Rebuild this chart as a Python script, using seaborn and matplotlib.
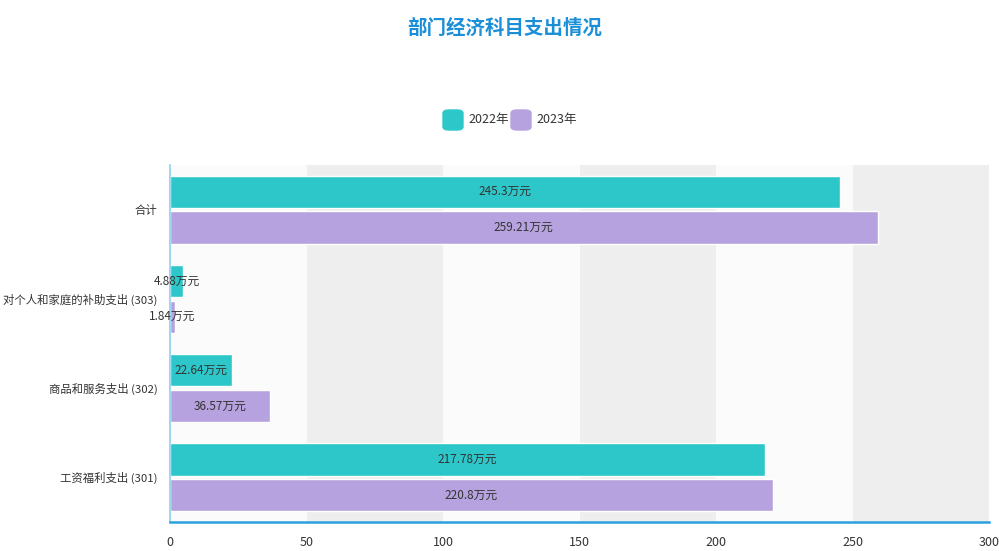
import pandas as pd
import seaborn as sns
import matplotlib.pyplot as plt
from matplotlib.patches import FancyBboxPatch

categories = ["合计", "对个人和家庭的补助支出 (303)", "商品和服务支出 (302)", "工资福利支出 (301)"]
years = ["2022年", "2023年"]
values_2022 = [245.3, 4.88, 22.64, 217.78]
values_2023 = [259.21, 1.84, 36.57, 220.8]
x_ticks = [0, 50, 100, 150, 200, 250, 300]
colors = ["#2ec7c9", "#b6a2de"]

df = pd.DataFrame({
    "category": categories * 2,
    "year": [years[0]] * 4 + [years[1]] * 4,
    "value": values_2022 + values_2023,
})

sns.set_style("white")
plt.rcParams["font.family"] = ["Noto Sans CJK SC", "DejaVu Sans"]

fig = plt.figure(figsize=(9.99, 5.51), dpi=100)
ax = fig.add_axes([170 / 999, 1 - 522 / 551, 819 / 999, 357 / 551])

# alternating split areas
for i, x0 in enumerate(x_ticks[:-1]):
    ax.axvspan(x0, x0 + 50, color="#eeeeee" if i % 2 else "#fbfbfb", zorder=0, lw=0)

sns.barplot(data=df, y="category", x="value", hue="year", orient="h",
            palette=colors, saturation=1, width=0.8, gap=0.1, ax=ax,
            zorder=2, legend=False)

for c in ax.containers:
    ax.bar_label(c, labels=[f"{v:g}万元" for v in c.datavalues], label_type="center",
                 fontsize=8.5, color="#333333")

ax.set_xlim(0, 300)
ax.set_ylim(3.5, -0.5)
ax.set_xticks(x_ticks)
ax.set_xticklabels([str(t) for t in x_ticks], fontsize=9, color="#333333")
ax.set_yticks(range(4))
ax.set_yticklabels(categories, fontsize=8.2, color="#333333")
ax.set_yticks([-0.5, 0.5, 1.5, 2.5, 3.5], minor=True)
ax.tick_params(axis="y", which="major", length=0, pad=9)
ax.tick_params(axis="y", which="minor", length=4, color="#008acd", direction="out")
ax.tick_params(axis="x", length=4, color="#555555", direction="out", pad=6)
ax.set_xlabel("")
ax.set_ylabel("")

for s in ["top", "right"]:
    ax.spines[s].set_visible(False)
ax.spines["bottom"].set_color("#2aa0e0")
ax.spines["bottom"].set_linewidth(1.8)
ax.spines["left"].set_color("#8fd0ee")
ax.spines["left"].set_linewidth(1.2)

fig.text(505 / 999, 1 - 28 / 551, "部门经济科目支出情况", ha="center", va="center",
         fontsize=14, fontweight="bold", color="#1a8fd8")

# legend
for i, (lab, col) in enumerate(zip(years, colors)):
    x0 = 443 + i * 68
    fig.patches.append(FancyBboxPatch((x0 / 999, 1 - 130 / 551), 20 / 999, 20 / 551,
                                      boxstyle="round,pad=0,rounding_size=0.006",
                                      transform=fig.transFigure, color=col, figure=fig))
    fig.text((x0 + 25) / 999, 1 - 120 / 551, lab, ha="left", va="center",
             fontsize=9, color="#333333")

plt.savefig("out.png", dpi=100)
